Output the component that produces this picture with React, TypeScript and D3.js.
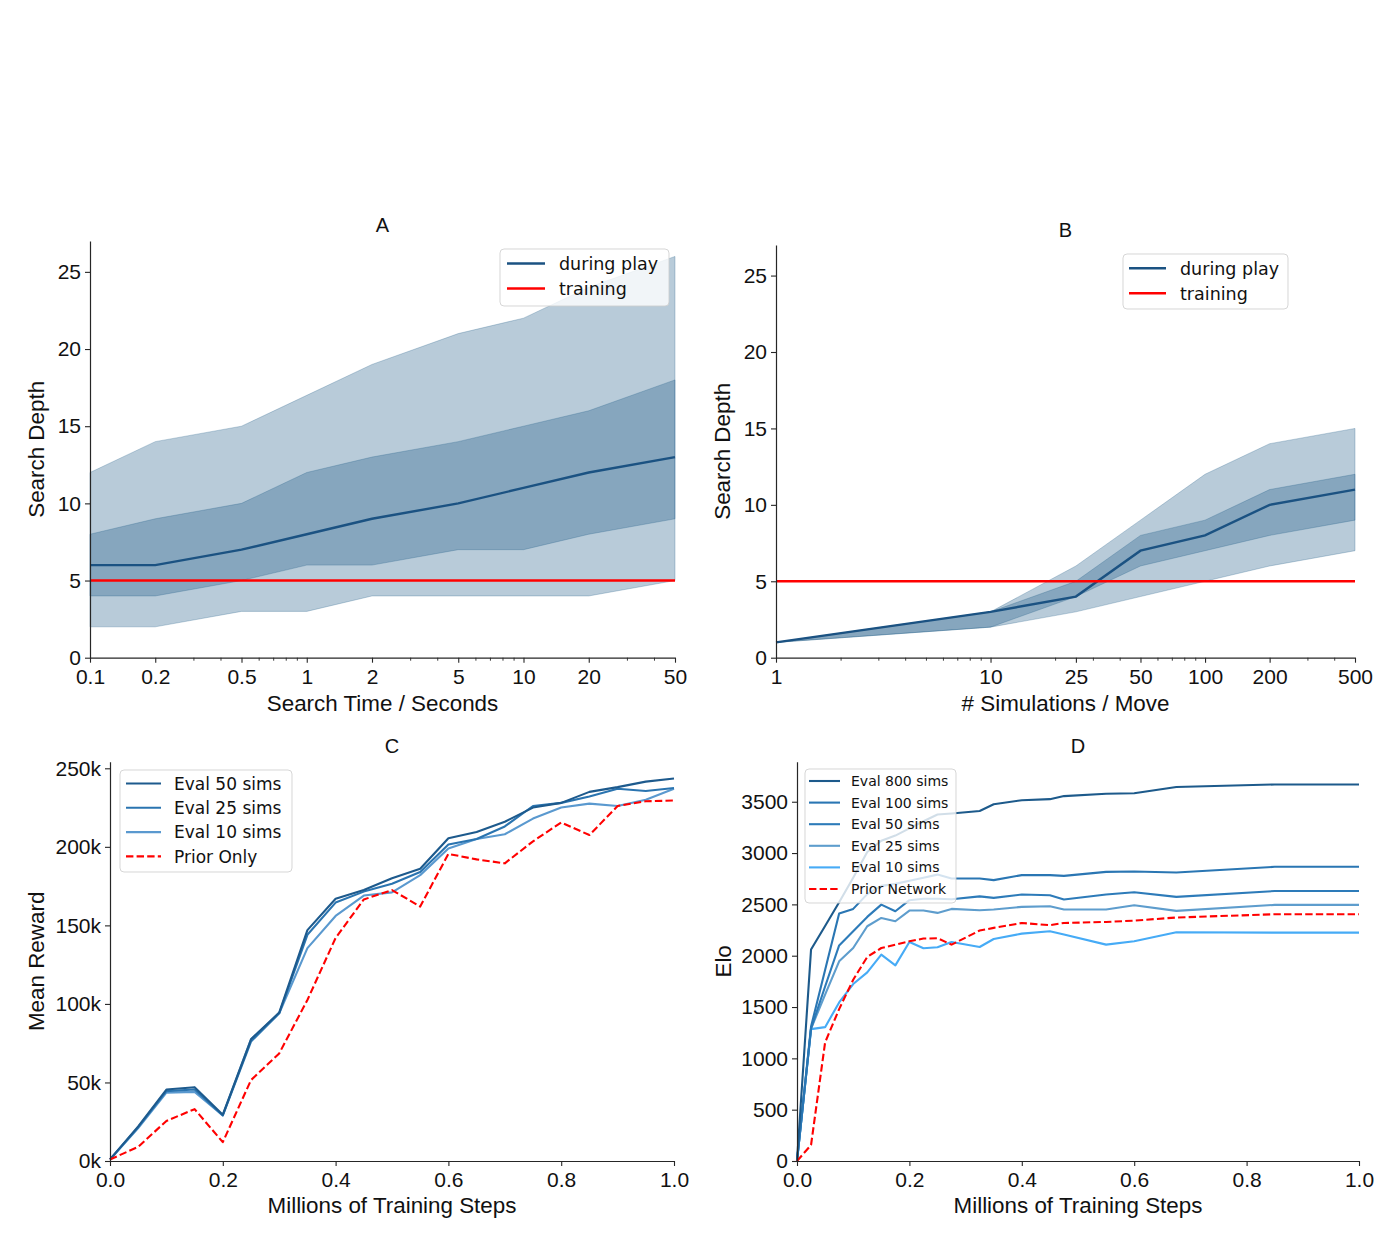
import * as d3 from "d3";
import { useEffect, useRef } from "react";

// A: search depth against search time (log x)
const searchSeconds = [0.1, 0.2, 0.5, 1, 2, 5, 10, 20, 50];
const timeMedian = [6, 6, 7, 8, 9, 10, 11, 12, 13];
const timeInnerLow = [4, 4, 5, 6, 6, 7, 7, 8, 9];
const timeInnerHigh = [8, 9, 10, 12, 13, 14, 15, 16, 18];
const timeOuterLow = [2, 2, 3, 3, 4, 4, 4, 4, 5];
const timeOuterHigh = [12, 14, 15, 17, 19, 21, 22, 24, 26];
const timeMinorTicks = [0.3, 0.4, 0.6, 0.7, 0.8, 0.9, 3, 4, 6, 7, 8, 9, 30, 40];

// B: search depth against simulations per move (log x)
const simsPerMove = [1, 10, 25, 50, 100, 200, 500];
const simsMedian = [1, 3, 4, 7, 8, 10, 11];
const simsInnerLow = [1, 2, 4, 6, 7, 8, 9];
const simsInnerHigh = [1, 3, 5, 8, 9, 11, 12];
const simsOuterLow = [1, 2, 3, 4, 5, 6, 7];
const simsOuterHigh = [1, 3, 6, 9, 12, 14, 15];
const simsMinorTicks = [2, 3, 4, 5, 6, 7, 8, 9, 20, 30, 40, 60, 70, 80, 90, 300, 400];

const trainingDepth = 5;
const depthTicks = [0, 5, 10, 15, 20, 25];

// C: mean reward during training
const rewardSteps = [0, 0.05, 0.1, 0.15, 0.2, 0.25, 0.3, 0.35, 0.4, 0.45, 0.5, 0.55, 0.6, 0.65, 0.7, 0.75, 0.8, 0.85, 0.9, 0.95, 1.0];
const rewardEval50 = [1, 22, 45.5, 47, 29.5, 77.5, 94.5, 147, 167, 172.5, 180, 186, 205.5, 209.5, 216, 225, 228, 235, 238, 241.5, 243.5];
const rewardEval25 = [1, 21.5, 44.5, 45.5, 29, 76, 94, 144, 164.5, 171.5, 176.5, 184, 201.5, 205, 213, 226, 228, 232, 237, 235.5, 237.5];
const rewardEval10 = [1, 21, 43.5, 44, 29, 77.5, 94, 135.5, 156, 169, 171, 182, 199, 205, 208, 218, 225, 227.5, 226, 230, 237];
const rewardPrior = [1, 9, 25.5, 33, 12, 51.5, 68.5, 102.5, 142, 166.5, 172.5, 162, 195.5, 192, 189.5, 203.5, 215.5, 207.5, 226, 229, 229.5];
const rewardTicks = [0, 50, 100, 150, 200, 250];

// D: Elo during training
const eloSteps = [0, 0.025, 0.05, 0.075, 0.1, 0.125, 0.15, 0.175, 0.2, 0.225, 0.25, 0.275, 0.325, 0.35, 0.4, 0.45, 0.475, 0.55, 0.6, 0.675, 0.85, 1.0];
const eloEval800 = [0, 2060, 2290, 2520, 2760, 3010, 3120, 3170, 3240, 3310, 3375, 3385, 3410, 3475, 3515, 3525, 3555, 3578, 3582, 3643, 3668, 3668];
const eloEval100 = [0, 1310, 1860, 2410, 2456, 2600, 2680, 2700, 2730, 2760, 2790, 2752, 2752, 2736, 2785, 2785, 2778, 2817, 2820, 2811, 2866, 2866];
const eloEval50 = [0, 1290, 1700, 2100, 2238, 2378, 2498, 2433, 2541, 2555, 2555, 2550, 2578, 2563, 2596, 2589, 2547, 2596, 2618, 2573, 2630, 2630];
const eloEval25 = [0, 1290, 1620, 1945, 2075, 2287, 2368, 2336, 2440, 2440, 2417, 2456, 2443, 2450, 2476, 2482, 2450, 2450, 2492, 2437, 2495, 2495];
const eloEval10 = [0, 1285, 1304, 1545, 1724, 1838, 2010, 1906, 2134, 2072, 2082, 2134, 2085, 2163, 2215, 2238, 2206, 2108, 2141, 2228, 2225, 2225];
const eloPrior = [0, 156, 1155, 1480, 1766, 1988, 2075, 2108, 2141, 2167, 2170, 2108, 2245, 2271, 2319, 2297, 2319, 2329, 2342, 2372, 2404, 2404];
const eloTicks = [0, 500, 1000, 1500, 2000, 2500, 3000, 3500];
const stepTicks = [0, 0.2, 0.4, 0.6, 0.8, 1.0];

const TEXT_FONT = "'Liberation Sans', Arial, Helvetica, sans-serif";
const LEGEND_FONT = "'DejaVu Sans', sans-serif";
const INK = "#111111";
const BAND = "#135280";
const RED = "#ff0000";

type Frame = { left: number; right: number; top: number; bottom: number };
type Entry = { label: string; color: string; width: number; dashed?: boolean };
type LegendBox = {
  x: number; y: number; w: number; h: number;
  first: number; gap: number; font: number;
  lineFrom: number; lineTo: number; textAt: number;
};

function styleAxis(g: any) {
  g.attr("font-family", null).attr("font-size", null);
  g.selectAll("text")
    .attr("font-family", TEXT_FONT)
    .attr("font-size", 21)
    .attr("fill", INK);
  g.selectAll("line").attr("stroke", "#262626").attr("stroke-width", 1.1);
  g.select(".domain").attr("stroke", "#262626").attr("stroke-width", 1.2);
}

function drawFrame(
  svg: any,
  f: Frame,
  xScale: any,
  yScale: any,
  xTicks: number[],
  xFormat: (d: any) => string,
  yTicks: number[],
  yFormat: (d: any) => string,
  xMinor: number[] | null
) {
  if (xMinor) {
    svg
      .append("g")
      .attr("transform", `translate(0,${f.bottom})`)
      .call(d3.axisBottom(xScale).tickValues(xMinor).tickFormat(() => "").tickSize(3).tickSizeOuter(0))
      .call((g: any) => {
        g.select(".domain").remove();
        g.selectAll("line").attr("stroke", "#262626").attr("stroke-width", 0.9);
      });
  }
  svg
    .append("g")
    .attr("transform", `translate(0,${f.bottom})`)
    .call(d3.axisBottom(xScale).tickValues(xTicks).tickFormat(xFormat).tickSize(5).tickSizeOuter(0).tickPadding(6))
    .call(styleAxis);
  svg
    .append("g")
    .attr("transform", `translate(${f.left},0)`)
    .call(d3.axisLeft(yScale).tickValues(yTicks).tickFormat(yFormat).tickSize(5).tickSizeOuter(0).tickPadding(4))
    .call(styleAxis);
}

function drawLabels(svg: any, f: Frame, title: string, titleY: number, xLabel: string, xLabelY: number, yLabel: string, yLabelX: number) {
  const cx = (f.left + f.right) / 2;
  const cy = (f.top + f.bottom) / 2;
  svg.append("text")
    .attr("x", cx).attr("y", titleY)
    .attr("text-anchor", "middle")
    .attr("font-family", TEXT_FONT).attr("font-size", 20).attr("fill", INK)
    .text(title);
  svg.append("text")
    .attr("x", cx).attr("y", xLabelY)
    .attr("text-anchor", "middle")
    .attr("font-family", TEXT_FONT).attr("font-size", 22.4).attr("fill", INK)
    .text(xLabel);
  svg.append("text")
    .attr("transform", `translate(${yLabelX},${cy}) rotate(-90)`)
    .attr("text-anchor", "middle")
    .attr("font-family", TEXT_FONT).attr("font-size", 22.4).attr("fill", INK)
    .text(yLabel);
}

function drawLegend(svg: any, box: LegendBox, entries: Entry[]) {
  const g = svg.append("g").attr("transform", `translate(${box.x},${box.y})`);
  g.append("rect")
    .attr("width", box.w).attr("height", box.h)
    .attr("rx", 4)
    .attr("fill", "#ffffff").attr("fill-opacity", 0.8)
    .attr("stroke", "#cccccc").attr("stroke-opacity", 0.8);
  entries.forEach((e, i) => {
    const yy = box.first + i * box.gap;
    g.append("line")
      .attr("x1", box.lineFrom).attr("x2", box.lineTo)
      .attr("y1", yy).attr("y2", yy)
      .attr("stroke", e.color).attr("stroke-width", e.width)
      .attr("stroke-dasharray", e.dashed ? "7.4,3.2" : null);
    g.append("text")
      .attr("x", box.textAt).attr("y", yy)
      .attr("dy", "0.36em")
      .attr("font-family", LEGEND_FONT).attr("font-size", box.font).attr("fill", INK)
      .text(e.label);
  });
}

function drawDepthPanel(
  svg: any,
  f: Frame,
  xs: number[],
  med: number[],
  innerLow: number[],
  innerHigh: number[],
  outerLow: number[],
  outerHigh: number[],
  minor: number[]
) {
  const x = d3.scaleLog().domain([xs[0], xs[xs.length - 1]]).range([f.left, f.right]);
  const y = d3.scaleLinear().domain([0, 27]).range([f.bottom, f.top]);

  const band = (lo: number[], hi: number[]) =>
    d3.area<number>()
      .x((d) => x(d))
      .y0((_, i) => y(lo[i]))
      .y1((_, i) => y(hi[i]))(xs);

  svg.append("path").attr("d", band(outerLow, outerHigh))
    .attr("fill", BAND).attr("fill-opacity", 0.3)
    .attr("stroke", BAND).attr("stroke-opacity", 0.25).attr("stroke-width", 1);
  svg.append("path").attr("d", band(innerLow, innerHigh))
    .attr("fill", BAND).attr("fill-opacity", 0.3)
    .attr("stroke", BAND).attr("stroke-opacity", 0.25).attr("stroke-width", 1);

  const line = d3.line<number>().x((d) => x(d)).y((_, i) => y(med[i]));
  svg.append("path").attr("d", line(xs))
    .attr("fill", "none").attr("stroke", "#1b5282").attr("stroke-width", 2.4);

  svg.append("line")
    .attr("x1", x(xs[0])).attr("x2", x(xs[xs.length - 1]))
    .attr("y1", y(trainingDepth)).attr("y2", y(trainingDepth))
    .attr("stroke", RED).attr("stroke-width", 2.4);

  drawFrame(svg, f, x, y, xs, (d) => String(d), depthTicks, (d) => String(d), minor);
}

function drawTrainingPanel(
  svg: any,
  f: Frame,
  xs: number[],
  series: { values: number[]; color: string; dashed?: boolean }[],
  yMax: number,
  yTicks: number[],
  yFormat: (d: any) => string
) {
  const x = d3.scaleLinear().domain([0, 1]).range([f.left, f.right]);
  const y = d3.scaleLinear().domain([0, yMax]).range([f.bottom, f.top]);
  series.forEach((s) => {
    const line = d3.line<number>().x((d) => x(d)).y((_, i) => y(s.values[i]));
    svg.append("path").attr("d", line(xs))
      .attr("fill", "none")
      .attr("stroke", s.color)
      .attr("stroke-width", 2.1)
      .attr("stroke-linejoin", "round")
      .attr("stroke-dasharray", s.dashed ? "7.4,3.2" : null);
  });
  drawFrame(svg, f, x, y, stepTicks, d3.format(".1f"), yTicks, yFormat, null);
}

export default function App() {
  const ref = useRef<SVGSVGElement | null>(null);

  useEffect(() => {
    const svg = d3.select(ref.current);
    svg.selectAll("*").remove();

    const frameA = { left: 90, right: 675, top: 241, bottom: 657.7 };
    const frameB = { left: 776, right: 1355, top: 245, bottom: 657.7 };
    const frameC = { left: 110, right: 674, top: 761.7, bottom: 1161 };
    const frameD = { left: 797, right: 1359, top: 761.7, bottom: 1161 };

    const playColor = "#1b5282";
    const depthEntries: Entry[] = [
      { label: "during play", color: playColor, width: 2.4 },
      { label: "training", color: RED, width: 2.4 },
    ];

    // A
    drawDepthPanel(svg, frameA, searchSeconds, timeMedian, timeInnerLow, timeInnerHigh, timeOuterLow, timeOuterHigh, timeMinorTicks);
    drawLabels(svg, frameA, "A", 231.5, "Search Time / Seconds", 710.5, "Search Depth", 44);
    drawLegend(svg, { x: 500, y: 249, w: 169, h: 57, first: 14.5, gap: 25, font: 17.5, lineFrom: 7, lineTo: 45, textAt: 59 }, depthEntries);

    // B
    drawDepthPanel(svg, frameB, simsPerMove, simsMedian, simsInnerLow, simsInnerHigh, simsOuterLow, simsOuterHigh, simsMinorTicks);
    drawLabels(svg, frameB, "B", 236.5, "# Simulations / Move", 710.5, "Search Depth", 730);
    drawLegend(svg, { x: 1123, y: 254, w: 165, h: 55, first: 14.3, gap: 25, font: 17.5, lineFrom: 6, lineTo: 43, textAt: 57 }, depthEntries);

    // C
    const cColors = { e50: "#1d5a8d", e25: "#2a74b0", e10: "#5a99cf" };
    drawTrainingPanel(
      svg, frameC, rewardSteps,
      [
        { values: rewardEval10, color: cColors.e10 },
        { values: rewardEval25, color: cColors.e25 },
        { values: rewardEval50, color: cColors.e50 },
        { values: rewardPrior, color: RED, dashed: true },
      ],
      254.2, rewardTicks, (d) => `${d}k`
    );
    drawLabels(svg, frameC, "C", 752.5, "Millions of Training Steps", 1213, "Mean Reward", 44);
    drawLegend(svg, { x: 120, y: 770, w: 172, h: 102, first: 13.5, gap: 24.3, font: 17, lineFrom: 6, lineTo: 41, textAt: 54 }, [
      { label: "Eval 50 sims", color: cColors.e50, width: 2.1 },
      { label: "Eval 25 sims", color: cColors.e25, width: 2.1 },
      { label: "Eval 10 sims", color: cColors.e10, width: 2.1 },
      { label: "Prior Only", color: RED, width: 2.1, dashed: true },
    ]);

    // D
    const dColors = { e800: "#1d5a8b", e100: "#2a76b3", e50: "#2d7bb9", e25: "#5e9dcd", e10: "#46abf6" };
    drawTrainingPanel(
      svg, frameD, eloSteps,
      [
        { values: eloEval10, color: dColors.e10 },
        { values: eloEval25, color: dColors.e25 },
        { values: eloEval50, color: dColors.e50 },
        { values: eloEval100, color: dColors.e100 },
        { values: eloEval800, color: dColors.e800 },
        { values: eloPrior, color: RED, dashed: true },
      ],
      3890, eloTicks, (d) => String(d)
    );
    drawLabels(svg, frameD, "D", 752.5, "Millions of Training Steps", 1213, "Elo", 731);
    drawLegend(svg, { x: 805, y: 769, w: 151, h: 134, first: 12, gap: 21.6, font: 14, lineFrom: 4, lineTo: 35, textAt: 46 }, [
      { label: "Eval 800 sims", color: dColors.e800, width: 2.1 },
      { label: "Eval 100 sims", color: dColors.e100, width: 2.1 },
      { label: "Eval 50 sims", color: dColors.e50, width: 2.1 },
      { label: "Eval 25 sims", color: dColors.e25, width: 2.1 },
      { label: "Eval 10 sims", color: dColors.e10, width: 2.1 },
      { label: "Prior Network", color: RED, width: 2.1, dashed: true },
    ]);
  }, []);

  return (
    <svg
      ref={ref}
      width={1389}
      height={1254}
      style={{ position: "absolute", left: 0, top: 0, background: "#ffffff" }}
    />
  );
}
